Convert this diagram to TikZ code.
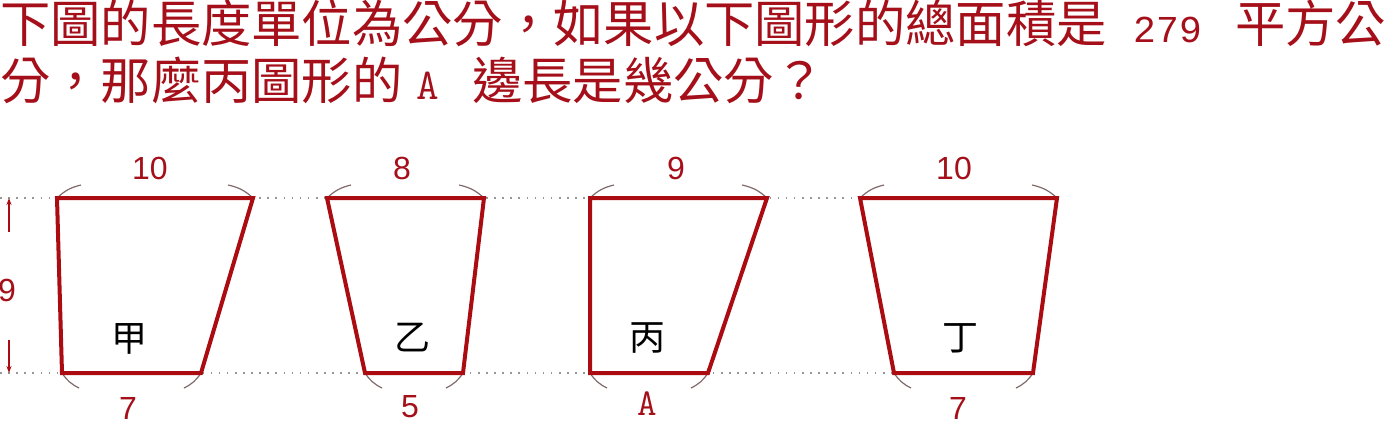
\documentclass[tikz,border=0pt]{standalone}
\usepackage{fontspec}
\newfontfamily\cjk{Noto Sans CJK TC}
\newfontfamily\monof{Liberation Mono}
\newfontfamily\lsans{Liberation Sans}
\usetikzlibrary{arrows.meta}
\definecolor{tred}{RGB}{165,15,25}
\definecolor{sred}{RGB}{170,12,18}
\definecolor{tickgrey}{RGB}{130,105,105}
\definecolor{dotgrey}{RGB}{150,150,150}
\begin{document}
\begin{tikzpicture}[x=1pt,y=-1pt,
  titletext/.style={anchor=base west,inner sep=0pt,text=tred,font=\cjk\fontsize{50.3}{56}\selectfont},
  trap/.style={draw=sred,line width=4pt,line join=miter},
  cornertick/.style={draw=tickgrey,line width=1.2pt},
  guide/.style={draw=dotgrey,line width=1.6pt,dash pattern=on 1.6pt off 6.5pt},
  dimline/.style={draw=sred,line width=1.2pt,-{Stealth[length=7pt,width=5pt]}},
  numlabel/.style={inner sep=0pt,text=tred,font=\lsans\fontsize{32}{36}\selectfont},
  letlabel/.style={inner sep=0pt,text=tred,font=\ttfamily\fontsize{38}{42}\selectfont},
  namelabel/.style={inner sep=0pt,text=black,font=\cjk\fontsize{36}{40}\selectfont}]
\useasboundingbox (0,0) rectangle (1385,423);

% title
\node[titletext] (line1) at (0,42) {下圖的長度單位為公分，如果以下圖形的總面積是\hspace{27pt}{\monof\fontsize{38}{44}\selectfont 279}\hspace{33pt}平方公};
\node[titletext] (line2) at (0,99) {分，那麼丙圖形的\hspace{14pt}{\ttfamily\fontsize{44}{48}\selectfont A}\hspace{33pt}邊長是幾公分？};

% guide lines
\coordinate (g1a) at (0,198);
\coordinate (g1b) at (860,198);
\coordinate (g2a) at (0,373);
\coordinate (g2b) at (894,373);
\draw[guide] (g1a) -- (g1b);
\draw[guide] (g2a) -- (g2b);

% corners
\coordinate (a-tl) at (57,198);  \coordinate (a-tr) at (253,198);
\coordinate (a-br) at (201,373); \coordinate (a-bl) at (62,373);
\coordinate (b-tl) at (327,198); \coordinate (b-tr) at (484,198);
\coordinate (b-br) at (463,373); \coordinate (b-bl) at (365,373);
\coordinate (c-tl) at (590,198); \coordinate (c-tr) at (767,198);
\coordinate (c-br) at (708,373); \coordinate (c-bl) at (590,373);
\coordinate (d-tl) at (860,198); \coordinate (d-tr) at (1057,198);
\coordinate (d-br) at (1033,373); \coordinate (d-bl) at (894,373);

\foreach \s in {a,b,c,d}{
  \draw[cornertick] (\s-tl) to[bend left=15] ++(24,-13);
  \draw[cornertick] (\s-tr) ++(-25,-13) to[bend left=15] (\s-tr);
  \draw[cornertick] (\s-bl) to[bend right=15] ++(17,15);
  \draw[cornertick] (\s-br) ++(-17,15) to[bend right=15] (\s-br);
  \draw[trap] (\s-tl) -- (\s-tr) -- (\s-br) -- (\s-bl) -- cycle;
}

% height dimension
\coordinate (h-top) at (9,198);
\coordinate (h-up) at (9,232);
\coordinate (h-dn) at (9,340);
\coordinate (h-bot) at (9,373);
\draw[dimline] (h-up) -- (h-top);
\draw[dimline] (h-dn) -- (h-bot);
\node[numlabel] (h9) at (7,290) {9};

% top labels
\node[numlabel] (ta) at (150,168) {10};
\node[numlabel] (tb) at (402,168) {8};
\node[numlabel] (tc) at (676,168) {9};
\node[numlabel] (td) at (954,168) {10};

% bottom labels
\node[numlabel] (ba) at (128,408) {7};
\node[numlabel] (bb) at (410,407) {5};
\node[letlabel] (bc) at (647,404) {A};
\node[numlabel] (bd) at (958,408) {7};

% names
\node[namelabel] (na) at (129,339) {甲};
\node[namelabel] (nb) at (412,338) {乙};
\node[namelabel] (nc) at (647,338) {丙};
\node[namelabel] (nd) at (960,338) {丁};
\end{tikzpicture}
\end{document}
